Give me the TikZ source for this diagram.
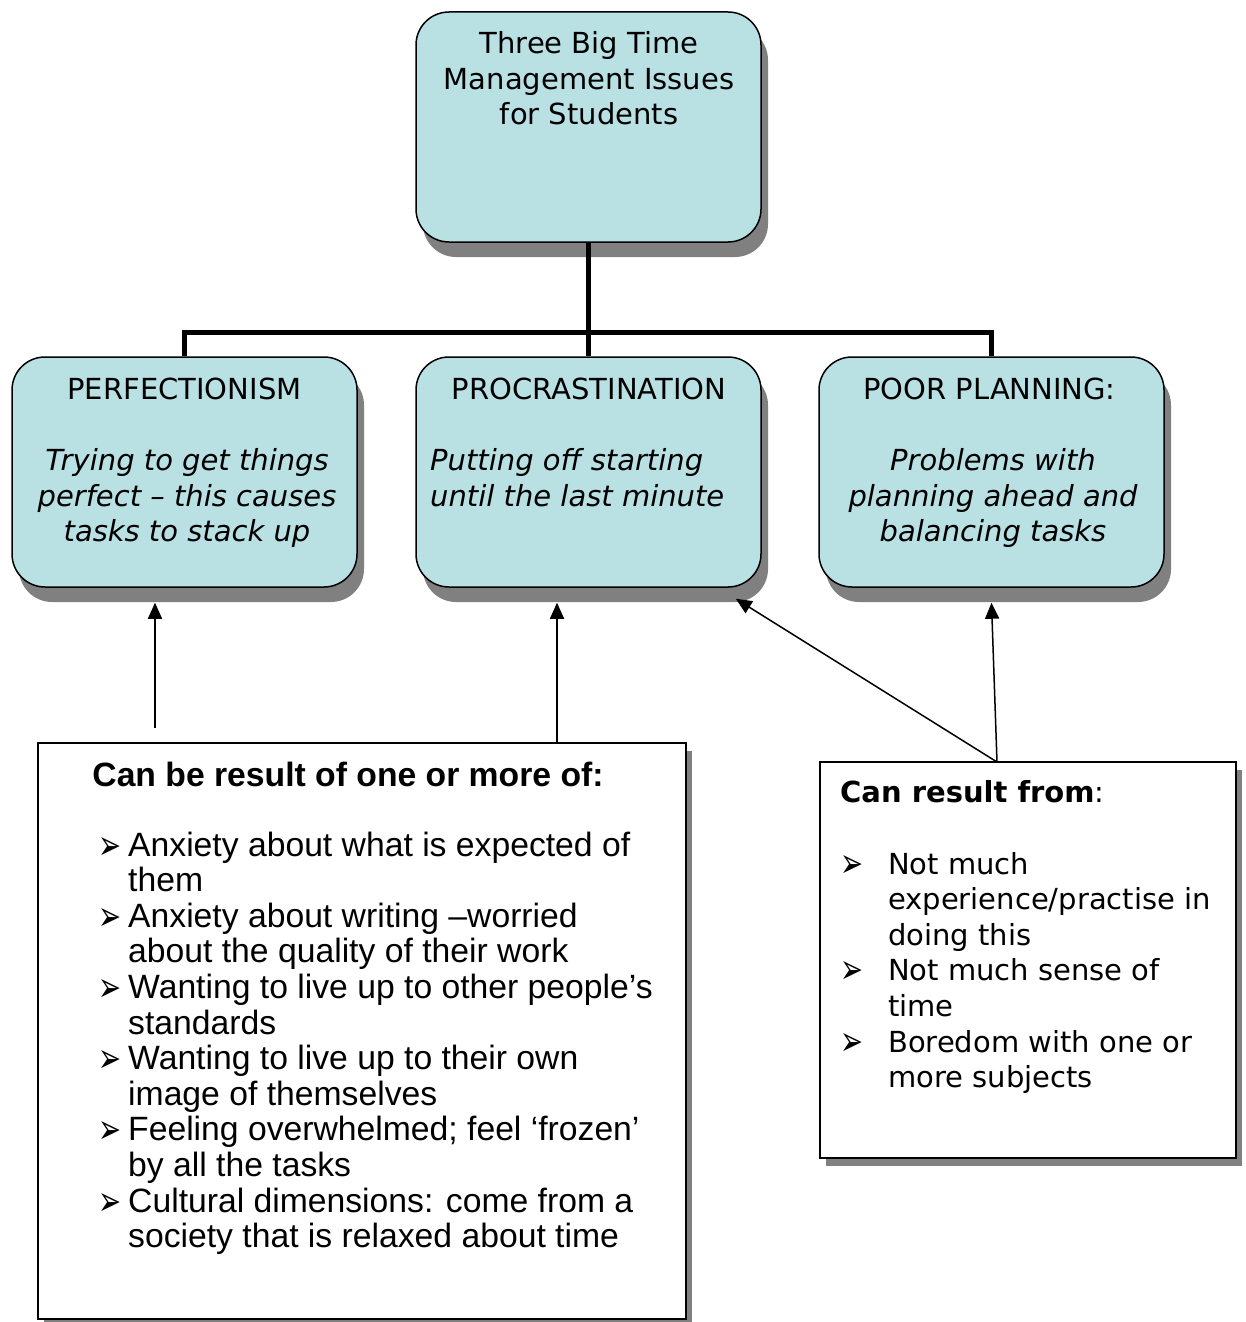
\documentclass[tikz,border=0pt]{standalone}
\usepackage{fontspec}
\usepackage{graphicx}
\setmainfont{DejaVu Sans}
\newfontfamily\dejavu{DejaVu Sans}
\newfontfamily\arialf{Liberation Sans}
\usetikzlibrary{arrows.meta,shadows,calc}
\definecolor{boxfill}{RGB}{185,224,227}
\definecolor{shadowgray}{RGB}{128,128,128}
\newcommand{\bulglyph}{\raisebox{-3pt}{\resizebox{23pt}{22pt}{\dejavu ➢}}}
\newcommand{\bulA}{\makebox[28pt][l]{\hspace{-2pt}\bulglyph}}
\newcommand{\bulB}{\makebox[46pt][l]{\hspace{-2pt}\bulglyph}}
\begin{document}
\begin{tikzpicture}[x=1pt,y=-1pt,
  issue/.style={draw=black, line width=1.5pt, fill=boxfill, rounded corners=33pt,
    minimum width=345pt, minimum height=230pt, inner sep=0pt,
    drop shadow={shadow xshift=7pt, shadow yshift=-15pt, fill=shadowgray, opacity=1}},
  causebox/.style={draw=black, line width=1.5pt, fill=white, inner sep=0pt,
    drop shadow={shadow xshift=6pt, shadow yshift=-8pt, fill=shadowgray, opacity=1}},
  txt/.style={inner sep=0pt, font=\fontsize{29}{35.5}\selectfont},
  itxt/.style={inner sep=0pt, font=\fontsize{29}{35.5}\selectfont\itshape},
  atxt/.style={inner sep=0pt, font=\arialf\fontsize{33.7}{35.6}\selectfont},
  tree/.style={line width=5pt},
  arr/.style={line width=1.5pt, -{Triangle[length=16pt,width=14pt]}}
]
\useasboundingbox (0,0) rectangle (1245,1322);

% top and issue boxes
\node[issue] (top) at (588.5,127) {};
\node[issue] (perf) at (184.5,472) {};
\node[issue] (proc) at (588.5,472) {};
\node[issue] (plan) at (991.5,472) {};

% cause boxes
\node[causebox, minimum width=648pt, minimum height=576pt] (causes) at (362,1031) {};
\node[causebox, minimum width=416pt, minimum height=396pt] (results) at (1028,960) {};

% tree connectors
\draw[tree] (top.south) -- (proc.north);
\draw[tree] (perf.north) -- ++(0,-24) -| (plan.north);

% texts in the top box
\node[txt, align=center, anchor=north] (toptext) at (589,31.5)
  {Three Big Time\\Management Issues\\for Students};

% issue texts
\node[txt, anchor=base] (perfh) at (184.5,399.5) {PERFECTIONISM};
\node[itxt, align=center, anchor=north] (perft) at (187,448.5)
  {Trying to get things\\perfect – this causes\\tasks to stack up};
\node[txt, anchor=base] (proch) at (589,399.5) {PROCRASTINATION};
\node[itxt, align=left, anchor=north west] (proct) at (430,448.5)
  {Putting off starting\\until the last minute};
\node[txt, anchor=base] (planh) at (989.5,399.5) {POOR PLANNING:};
\node[itxt, align=center, anchor=north] (plant) at (993,448.5)
  {Problems with\\planning ahead and\\balancing tasks};

% left cause box texts
\node[atxt, anchor=base, font=\arialf\bfseries\fontsize{33.7}{35.6}\selectfont] (causesh) at (348,786)
  {Can be result of one or more of:};
\node[atxt, anchor=north west] (causeslist) at (100,831)
  {\begin{tabular}{@{}l@{}l@{}}
   \bulA & Anxiety about what is expected of\\
         & them\\
   \bulA & Anxiety about writing –worried\\
         & about the quality of their work\\
   \bulA & Wanting to live up to other people’s\\
         & standards\\
   \bulA & Wanting to live up to their own\\
         & image of themselves\\
   \bulA & Feeling overwhelmed; feel ‘frozen’\\
         & by all the tasks\\
   \bulA & Cultural dimensions: come from a\\
         & society that is relaxed about time
   \end{tabular}};

% right cause box texts
\node[txt, anchor=base west] (resultsh) at (840,802) {\textbf{Can result from}:};
\node[inner sep=0pt, anchor=north west, font=\fontsize{29}{35.6}\selectfont] (resultslist) at (842,849)
  {\begin{tabular}{@{}l@{}l@{}}
   \bulB & Not much\\
         & experience/practise in\\
         & doing this\\
   \bulB & Not much sense of\\
         & time\\
   \bulB & Boredom with one or\\
         & more subjects
   \end{tabular}};

% arrows
\coordinate (p1) at (155,728);
\coordinate (p2) at (557,743);
\coordinate (p3) at (997,762);
\draw[arr] (p1) -- ($(p1 |- perf.south)+(0,15)$);
\draw[arr] (p2) -- ($(p2 |- proc.south)+(0,15)$);
\draw[arr] (p3) -- ($(proc.south east)+(-26,11)$);
\draw[arr] (p3) -- ($(plan.south)+(0,15)$);
\end{tikzpicture}
\end{document}
